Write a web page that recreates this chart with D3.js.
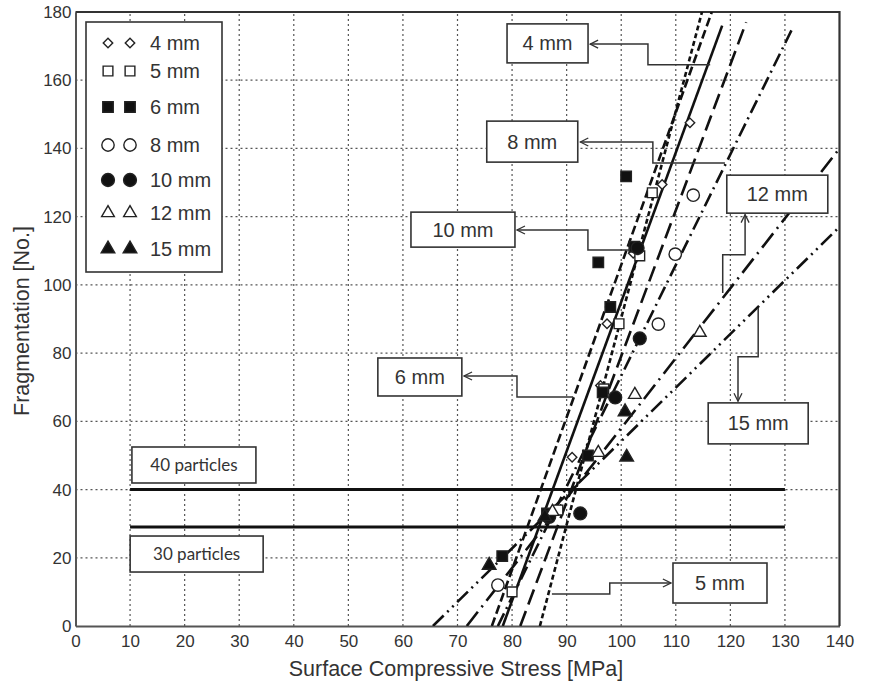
<!DOCTYPE html>
<html>
<head>
<meta charset="utf-8">
<script src="https://cdn.jsdelivr.net/npm/d3@7"></script>
<style>
  body { margin: 0; background: #fff; }
  svg { display: block; font-family: "Liberation Sans", Arial, sans-serif; }
</style>
</head>
<body>
<div id="chart"></div>
<script>
// legend / series names
var sizes = ["4 mm", "5 mm", "6 mm", "8 mm", "10 mm", "12 mm", "15 mm"];

// measured points [stress MPa, fragmentation No.]
var pts4 = [[86.2, 31.5], [91.0, 49.5], [96.2, 70.5], [97.4, 88.6], [102.2, 109.3], [107.5, 129.4], [112.6, 147.5]];
var pts5 = [[80.0, 10.0], [88.4, 34.0], [96.8, 69.5], [99.6, 88.6], [103.4, 108.5], [105.7, 127.0]];
var pts6 = [[78.2, 20.5], [86.4, 33.0], [93.9, 50.0], [96.6, 68.5], [98.0, 93.5], [95.8, 106.6], [102.4, 111.2], [100.9, 131.8]];
var pts8 = [[77.4, 12.0], [106.8, 88.5], [109.9, 109.0], [113.2, 126.3]];
var pts10 = [[86.8, 32.0], [92.5, 33.0], [98.9, 67.0], [103.4, 84.3], [103.0, 110.8]];
var pts12 = [[87.4, 33.5], [95.8, 50.8], [102.5, 67.8], [114.4, 86.0]];
var pts15 = [[75.8, 17.8], [86.0, 32.0], [101.0, 49.5], [100.7, 62.8]];

// fitted lines: stress where fragmentation = 0, and the upper end [stress, frag]
var fitStart = [78.3, 85.1, 76.3, 77.4, 81.5, 71.7, 65.5];
var fitEnd = [[118.5, 176], [114.8, 180], [116.6, 180], [131.5, 175.6], [122.9, 177], [140, 140], [140, 117]];

// reference levels
var levelNames = ["40 particles", "30 particles"];
var levelValues = [40, 29];
var levelRange = [10, 130];

var xTicks = d3.range(0, 141, 10);
var yTicks = d3.range(0, 181, 20);

var width = 875, height = 687;

var x = d3.scaleLinear().domain([0, 140]).range([75.5, 839.5]);
var y = d3.scaleLinear().domain([0, 180]).range([626, 12]);

var svg = d3.select("#chart").append("svg")
  .attr("width", width)
  .attr("height", height);

svg.append("defs").append("marker")
  .attr("id", "arr")
  .attr("viewBox", "0 0 10 10")
  .attr("refX", 9).attr("refY", 5)
  .attr("markerWidth", 10).attr("markerHeight", 10)
  .attr("markerUnits", "userSpaceOnUse")
  .attr("orient", "auto")
  .append("path")
  .attr("d", "M1,1 L9,5 L1,9")
  .attr("fill", "none")
  .attr("stroke", "#333")
  .attr("stroke-width", 1.3);

svg.select("defs").append("clipPath").attr("id", "plotclip")
  .append("rect")
  .attr("x", x(0)).attr("y", y(180))
  .attr("width", x(140) - x(0)).attr("height", y(0) - y(180));

// grid
var grid = svg.append("g");
grid.selectAll(".gx").data(xTicks.filter(d => d > 0 && d < 140)).enter()
  .append("line")
  .attr("x1", d => x(d)).attr("x2", d => x(d))
  .attr("y1", y(0)).attr("y2", y(180))
  .attr("stroke", "#555").attr("stroke-width", 1.2)
  .attr("stroke-dasharray", "2,3");
grid.selectAll(".gy").data(yTicks.filter(d => d > 0 && d < 180)).enter()
  .append("line")
  .attr("x1", x(0)).attr("x2", x(140))
  .attr("y1", d => y(d)).attr("y2", d => y(d))
  .attr("stroke", "#555").attr("stroke-width", 1.2)
  .attr("stroke-dasharray", "2,3");

// axes
var xAxis = svg.append("g")
  .attr("transform", "translate(0," + y(0) + ")")
  .call(d3.axisBottom(x).tickValues(xTicks).tickSize(0).tickPadding(9));
var yAxis = svg.append("g")
  .attr("transform", "translate(" + x(0) + ",0)")
  .call(d3.axisLeft(y).tickValues(yTicks).tickSize(0).tickPadding(4));
[xAxis, yAxis].forEach(a => {
  a.select(".domain").attr("stroke", "#555").attr("stroke-width", 2);
  a.selectAll("text").attr("font-size", 17).attr("fill", "#333")
    .attr("font-family", "'Liberation Sans', Arial, sans-serif");
});

// top and right border
svg.append("path")
  .attr("d", "M" + x(0) + "," + y(180) + "H" + x(140) + "V" + y(0))
  .attr("fill", "none").attr("stroke", "#333").attr("stroke-width", 2.2);

// axis titles
svg.append("text")
  .attr("x", 456).attr("y", 676)
  .attr("text-anchor", "middle")
  .attr("font-size", 21.5).attr("fill", "#333")
  .text("Surface Compressive Stress [MPa]");
svg.append("text")
  .attr("transform", "translate(29,321) rotate(-90)")
  .attr("text-anchor", "middle")
  .attr("font-size", 21.5).attr("fill", "#333")
  .text("Fragmentation [No.]");

// particle levels
svg.append("g").selectAll("line").data(levelValues).enter()
  .append("line")
  .attr("x1", x(levelRange[0])).attr("x2", x(levelRange[1]))
  .attr("y1", d => y(d)).attr("y2", d => y(d))
  .attr("stroke", "#111").attr("stroke-width", 3);

// fitted lines
var dashes = ["", "5,3", "9,4", "14,5,2,5", "16,7", "18,6,2,6", "15,5,2,5,2,5"];
var fits = svg.append("g").attr("clip-path", "url(#plotclip)");
sizes.forEach((s, i) => {
  fits.append("line")
    .attr("x1", x(fitStart[i])).attr("y1", y(0))
    .attr("x2", x(fitEnd[i][0])).attr("y2", y(fitEnd[i][1]))
    .attr("stroke", "#111").attr("stroke-width", 2.6)
    .attr("stroke-dasharray", dashes[i]);
});

// markers
var shapes = [
  { t: d3.symbolSquare, a: 45, fill: "#fff", rot: 45 },
  { t: d3.symbolSquare, a: 95, fill: "#fff", rot: 0 },
  { t: d3.symbolSquare, a: 110, fill: "#111", rot: 0 },
  { t: d3.symbolCircle, a: 120, fill: "#fff", rot: 0 },
  { t: d3.symbolCircle, a: 130, fill: "#111", rot: 0 },
  { t: d3.symbolTriangle, a: 70, fill: "#fff", rot: 0 },
  { t: d3.symbolTriangle, a: 80, fill: "#111", rot: 0 }
];
var series = [pts4, pts5, pts6, pts8, pts10, pts12, pts15];

function marker(g, i, cx, cy) {
  var sh = shapes[i];
  g.append("path")
    .attr("d", d3.symbol().type(sh.t).size(sh.a)())
    .attr("transform", "translate(" + cx + "," + cy + ") rotate(" + sh.rot + ")")
    .attr("fill", sh.fill)
    .attr("stroke", "#222")
    .attr("stroke-width", 1.4);
}

var pg = svg.append("g");
series.forEach((pts, i) => {
  pts.forEach(p => marker(pg, i, x(p[0]), y(p[1])));
});

// legend
var lg = svg.append("g");
lg.append("rect")
  .attr("x", 86).attr("y", 22).attr("width", 136).attr("height", 250)
  .attr("fill", "#fff").attr("stroke", "#333").attr("stroke-width", 1.6);
var legendRows = [43, 71, 107, 145, 180, 213, 249];
sizes.forEach((s, i) => {
  marker(lg, i, 108, legendRows[i]);
  marker(lg, i, 130, legendRows[i]);
  lg.append("text")
    .attr("x", 150).attr("y", legendRows[i] + 7)
    .attr("font-size", 20).attr("fill", "#333")
    .text(s);
});

// callouts: box centre and leader path in data units
var callouts = [
  { label: "4 mm", c: [86.5, 170.8], w: 81, h: 39, path: [[116.3, 164.5], [104.9, 164.5], [104.9, 170.6], [94.3, 170.6]] },
  { label: "8 mm", c: [83.7, 142.0], w: 91, h: 41, path: [[119.0, 135.7], [105.8, 135.7], [105.8, 141.9], [92.5, 141.9]] },
  { label: "10 mm", c: [71.0, 116.2], w: 104, h: 35, path: [[101.6, 110.2], [93.9, 110.2], [93.9, 116.1], [80.9, 116.1]] },
  { label: "6 mm", c: [63.1, 73.0], w: 84, h: 38, path: [[91.2, 67.1], [80.9, 67.1], [80.9, 73.3], [71.2, 73.3]] },
  { label: "12 mm", c: [128.6, 126.6], w: 101, h: 38, path: [[118.6, 97.6], [118.6, 108.8], [122.7, 108.8], [122.7, 120.6]] },
  { label: "15 mm", c: [125.1, 59.4], w: 100, h: 41, path: [[125.1, 93.2], [125.1, 78.9], [121.4, 78.9], [121.4, 65.9]] },
  { label: "5 mm", c: [118.1, 12.6], w: 94, h: 40, path: [[87.3, 9.4], [97.9, 9.4], [97.9, 12.6], [109.1, 12.6]] }
];
var line = d3.line().x(d => x(d[0])).y(d => y(d[1]));
var cg = svg.append("g");
callouts.forEach(c => {
  cg.append("path")
    .attr("d", line(c.path))
    .attr("fill", "none").attr("stroke", "#333").attr("stroke-width", 1.5)
    .attr("marker-end", "url(#arr)");
  cg.append("rect")
    .attr("x", x(c.c[0]) - c.w / 2).attr("y", y(c.c[1]) - c.h / 2)
    .attr("width", c.w).attr("height", c.h)
    .attr("fill", "#fff").attr("stroke", "#333").attr("stroke-width", 1.6);
  cg.append("text")
    .attr("x", x(c.c[0])).attr("y", y(c.c[1]) + 7)
    .attr("text-anchor", "middle")
    .attr("font-size", 20).attr("fill", "#333")
    .text(c.label);
});

// particle level boxes
var levelBoxes = [
  { c: [21.7, 47.2], w: 124, h: 36 },
  { c: [22.2, 21.1], w: 133, h: 36 }
];
levelNames.forEach((n, i) => {
  var b = levelBoxes[i];
  cg.append("rect")
    .attr("x", x(b.c[0]) - b.w / 2).attr("y", y(b.c[1]) - b.h / 2)
    .attr("width", b.w).attr("height", b.h)
    .attr("fill", "#fff").attr("stroke", "#333").attr("stroke-width", 1.6);
  cg.append("text")
    .attr("x", x(b.c[0])).attr("y", y(b.c[1]) + 6)
    .attr("text-anchor", "middle")
    .attr("font-family", "Lato, 'Open Sans', sans-serif")
    .attr("font-size", 17).attr("fill", "#333")
    .text(n);
});
</script>
</body>
</html>
